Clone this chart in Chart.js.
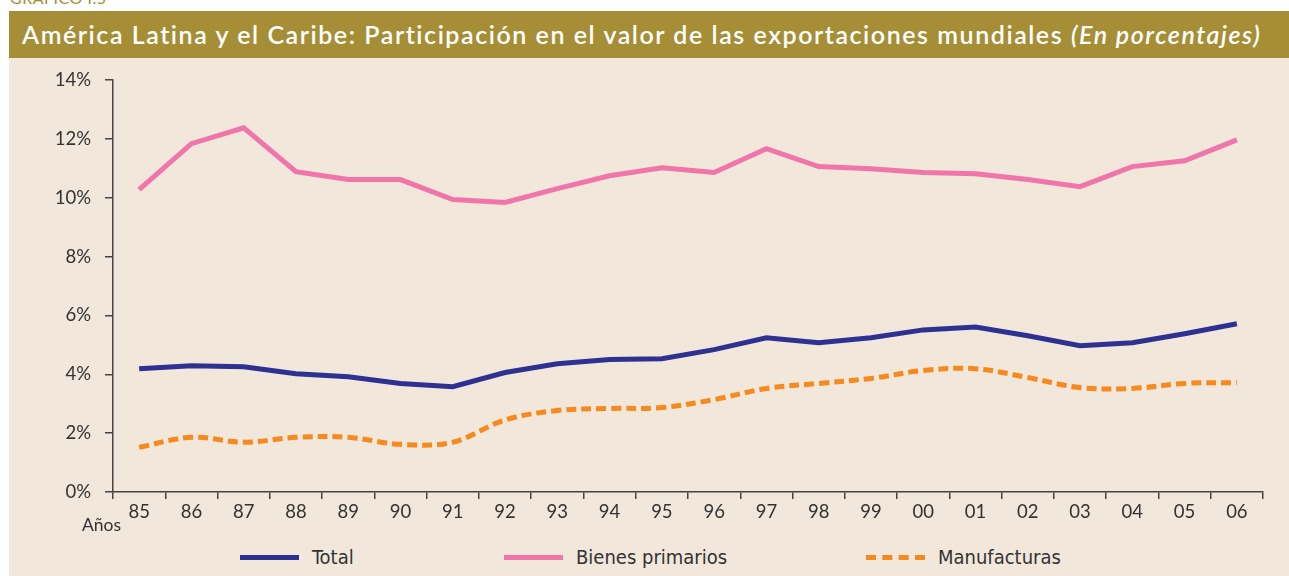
<!DOCTYPE html>
<html>
<head>
<meta charset="utf-8">
<script src="https://cdn.jsdelivr.net/npm/chart.js@4"></script>
<style>
  body { margin: 0; background: #fff; width: 1289px; height: 576px; overflow: hidden; position: relative; font-family: "Lato", "Open Sans", sans-serif; }
  #sup { position: absolute; left: 10px; top: -12px; font-size: 16px; color: #a58e36; letter-spacing: 0.5px; }
  #titulo { position: absolute; left: 9px; top: 11px; width: 1280px; height: 47px; background: #a58e36; color: #fff; font-size: 25px; font-weight: 600; letter-spacing: 1.55px; line-height: 46px; padding-left: 13px; box-sizing: border-box; white-space: nowrap; }
  #titulo i { font-weight: 600; }
  #fondo { position: absolute; left: 9px; top: 58px; width: 1280px; height: 518px; background: #f1e7da; }
  #myChart { position: absolute; left: 9px; top: 55px; }
  #anos { position: absolute; left: 82px; top: 514px; font-size: 17.5px; color: #333; }
  .ley { position: absolute; top: 545px; height: 24px; display: flex; align-items: center; font-family: "DejaVu Sans Condensed", "Liberation Sans Narrow", sans-serif; font-stretch: condensed; font-size: 20px; color: #333; }
  .ley span.linea { display: inline-block; width: 59px; height: 0; margin-right: 13px; }
</style>
</head>
<body>
<div id="sup">GRÁFICO I.5</div>
<div id="titulo">América Latina y el Caribe: Participación en el valor de las exportaciones mundiales <i>(En porcentajes)</i></div>
<div id="fondo"></div>
<canvas id="myChart" width="1280" height="473"></canvas>
<div id="anos">Años</div>
<div id="leyenda"></div>
<script>
// Datos
let anios = ['85','86','87','88','89','90','91','92','93','94','95','96','97','98','99','00','01','02','03','04','05','06'];
let total = [4.19, 4.29, 4.26, 4.02, 3.92, 3.69, 3.58, 4.06, 4.36, 4.50, 4.53, 4.84, 5.24, 5.07, 5.24, 5.51, 5.61, 5.31, 4.97, 5.07, 5.38, 5.72];
let primarios = [10.28, 11.84, 12.38, 10.89, 10.62, 10.62, 9.94, 9.84, 10.31, 10.75, 11.02, 10.86, 11.67, 11.06, 10.99, 10.86, 10.82, 10.62, 10.38, 11.06, 11.26, 11.97];
let manufacturas = [1.52, 1.86, 1.69, 1.86, 1.86, 1.62, 1.69, 2.45, 2.77, 2.84, 2.87, 3.14, 3.52, 3.69, 3.86, 4.13, 4.19, 3.89, 3.55, 3.52, 3.69, 3.72];
let yTicks = [0, 2, 4, 6, 8, 10, 12, 14];

const azul = '#2e3192';
const rosa = '#f075aa';
const naranjo = '#f7891f';

const data = {
  labels: anios,
  datasets: [
    { label: 'Total', data: total, borderColor: azul, borderWidth: 5, pointRadius: 0, tension: 0, fill: false },
    { label: 'Bienes primarios', data: primarios, borderColor: rosa, borderWidth: 5, pointRadius: 0, tension: 0, fill: false },
    { label: 'Manufacturas', data: manufacturas, borderColor: naranjo, borderWidth: 5, borderDash: [10, 5], borderCapStyle: 'butt', pointRadius: 0, tension: 0.35, fill: false }
  ]
};

const fuente = { family: 'Lato, "Open Sans", sans-serif', size: 18.5 };

const configData = {
  type: 'line',
  data: data,
  options: {
    responsive: false,
    animation: false,
    devicePixelRatio: 1,
    layout: { padding: { top: 12, right: 26, left: 0, bottom: 0 } },
    plugins: { legend: { display: false }, tooltip: { enabled: false } },
    scales: {
      y: {
        min: 0, max: 14,
        afterFit: (s) => { s.width = 104; },
        afterBuildTicks: (s) => { s.ticks = yTicks.map(v => ({ value: v })); },
        ticks: { color: '#333', font: fuente, padding: 14, callback: (v) => v + '%' },
        grid: { drawOnChartArea: false, drawTicks: true, tickLength: 8, color: '#444', lineWidth: 1.5 },
        border: { display: true, color: '#444', width: 1.5 }
      },
      x: {
        offset: true,
        afterFit: (s) => { s.height = 36; },
        ticks: { color: '#333', font: fuente, padding: 2, maxRotation: 0, autoSkip: false },
        grid: { offset: true, drawOnChartArea: false, drawTicks: true, tickLength: 7, color: '#444', lineWidth: 1.5 },
        border: { display: true, color: '#444', width: 1.5 }
      }
    }
  }
};

const chartDOM = document.getElementById('myChart');
new Chart(chartDOM, configData);

// Leyenda
let leyX = [240, 504, 866];
let leyenda = document.getElementById('leyenda');
data.datasets.forEach((ds, i) => {
  let item = document.createElement('div');
  item.className = 'ley';
  item.style.left = leyX[i] + 'px';
  let estilo = ds.borderDash ? 'dashed' : 'solid';
  item.innerHTML = `<span class="linea" style="border-top: 5px ${estilo} ${ds.borderColor}"></span>${ds.label}`;
  leyenda.appendChild(item);
});
</script>
</body>
</html>
